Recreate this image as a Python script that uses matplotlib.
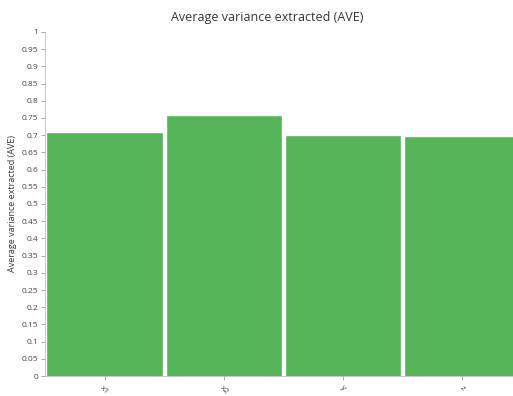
import numpy as np
import matplotlib
matplotlib.use("Agg")
import matplotlib.pyplot as plt

plt.rcParams['font.family'] = ['Open Sans', 'DejaVu Sans']

# data
categories = ['x1', 'x2', 'y', 'z']
ave = [0.706, 0.756, 0.698, 0.695]

fig = plt.figure(figsize=(5.13, 3.96), dpi=100)
ax = fig.add_axes([0.0877, 0.0505, 0.93, 0.8687])

ind = np.arange(len(categories))
ax.bar(ind, ave, width=0.96, color='#55b358', edgecolor='#5fbb62', linewidth=0.5)

ax.set_xlim(-0.5, len(categories) - 0.5)
ax.set_ylim(0, 1)
ax.set_yticks(np.arange(0, 1.0001, 0.05))
ax.set_yticklabels(['{:g}'.format(round(v, 2)) for v in np.arange(0, 1.0001, 0.05)])
ax.set_xticks(ind)
ax.set_xticklabels(categories, rotation=-45, ha='center', va='top')

ax.tick_params(axis='y', labelsize=6, color='#999999', length=3, width=0.6, labelcolor='#444444', pad=2)
ax.tick_params(axis='x', labelsize=6, color='#999999', length=3, width=0.6, labelcolor='#444444', pad=3)

for s in ['top', 'right']:
    ax.spines[s].set_visible(False)
for s in ['left', 'bottom']:
    ax.spines[s].set_color('#bbbbbb')
    ax.spines[s].set_linewidth(0.6)

ax.set_ylabel('Average variance extracted (AVE)', fontsize=6.5, color='#333333', labelpad=3)
fig.text(0.52, 0.955, 'Average variance extracted (AVE)', fontsize=9, color='#333333',
         ha='center', va='center')

fig.savefig('out.png', dpi=100)
